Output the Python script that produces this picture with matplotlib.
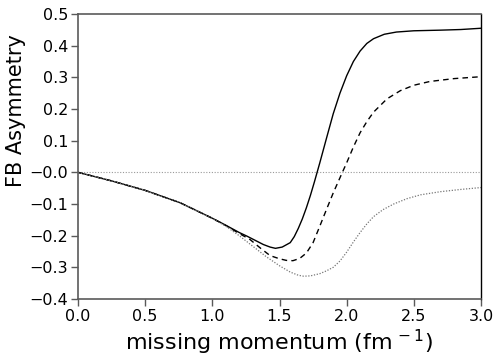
import numpy as np
import matplotlib
matplotlib.use('Agg')
import matplotlib.pyplot as plt

# values
x_solid = [0.0, 0.25, 0.5, 0.76, 1.0, 1.1, 1.2, 1.26, 1.32, 1.38, 1.43, 1.47, 1.52, 1.58, 1.61, 1.64, 1.67, 1.70,
           1.73, 1.76, 1.78, 1.80, 1.85, 1.90, 1.95, 2.0, 2.05, 2.1, 2.15, 2.2, 2.28, 2.37, 2.5, 2.7, 2.85, 3.0]
y_solid = [0.0, -0.027, -0.057, -0.096, -0.145, -0.167, -0.19, -0.202, -0.215, -0.228, -0.236, -0.240, -0.236,
           -0.222, -0.203, -0.177, -0.147, -0.112, -0.073, -0.03, 0.0, 0.03, 0.108, 0.185, 0.25, 0.305, 0.35,
           0.383, 0.407, 0.422, 0.436, 0.443, 0.447, 0.449, 0.451, 0.455]

x_dash = [0.0, 0.25, 0.5, 0.76, 1.0, 1.1, 1.2, 1.28, 1.36, 1.43, 1.5, 1.55, 1.6, 1.65, 1.7, 1.75, 1.8, 1.85, 1.9,
          1.968, 2.0, 2.05, 2.1, 2.15, 2.2, 2.3, 2.4, 2.5, 2.62, 2.8, 3.0]
y_dash = [0.0, -0.027, -0.057, -0.096, -0.145, -0.168, -0.193, -0.212, -0.24, -0.263, -0.273, -0.278, -0.279,
          -0.272, -0.255, -0.222, -0.17, -0.117, -0.065, 0.0, 0.03, 0.08, 0.125, 0.16, 0.19, 0.232, 0.258,
          0.275, 0.287, 0.296, 0.302]

x_dot = [0.0, 0.25, 0.5, 0.76, 1.0, 1.1, 1.2, 1.3, 1.4, 1.5, 1.58, 1.64, 1.68, 1.73, 1.8, 1.85, 1.9, 1.95, 2.0,
         2.05, 2.1, 2.15, 2.2, 2.27, 2.35, 2.45, 2.55, 2.7, 2.85, 3.0]
y_dot = [0.0, -0.027, -0.057, -0.096, -0.146, -0.17, -0.2, -0.233, -0.266, -0.295, -0.315, -0.325, -0.328,
         -0.327, -0.32, -0.311, -0.3, -0.28, -0.252, -0.22, -0.19, -0.163, -0.14, -0.118, -0.1, -0.083, -0.071,
         -0.061, -0.054, -0.048]

fig = plt.figure(figsize=(4.98, 3.62), dpi=100)
ax = fig.add_axes([78/498, 1-299/362, (481-78)/498, (299-14)/362])

ax.axhline(0, color='#999999', lw=0.8, ls=(0, (1, 1.5)))
ax.plot(x_solid, y_solid, color='black', lw=1.0)
ax.plot(x_dash, y_dash, color='black', lw=1.0, ls=(0, (4, 3)))
ax.plot(x_dot, y_dot, color='#777777', lw=0.9, ls=(0, (1, 1.3)))

ax.set_xlim(0, 3)
ax.set_ylim(-0.4, 0.5)
ax.set_xticks(np.arange(0, 3.01, 0.5))
ax.set_yticks(np.arange(-0.4, 0.51, 0.1))
ax.set_xticklabels(['%.1f' % v for v in np.arange(0, 3.01, 0.5)])
ax.set_yticklabels([('%.1f' % v).replace('-', '\u2212') for v in np.arange(-0.4, 0.51, 0.1)])

for s in ['left', 'top', 'bottom']:
    ax.spines[s].set_color('#5a5a5a')
    ax.spines[s].set_linewidth(1.2)
ax.spines['right'].set_color('black')
ax.spines['right'].set_linewidth(1.0)
ax.tick_params(direction='out', length=5, width=1, color='#5a5a5a', labelsize=11.5, pad=2,
               top=False, right=False)

ax.set_xlabel('missing momentum (fm$^{\\,-1}$)', fontsize=16, labelpad=3)
ax.set_ylabel('FB Asymmetry', fontsize=15)
ax.yaxis.set_label_coords(-0.13, 0.66)

plt.savefig('out.png', dpi=100)
